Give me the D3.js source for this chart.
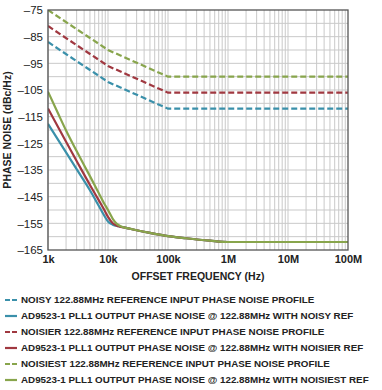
<!DOCTYPE html>
<html><head><meta charset="utf-8">
<script src="https://cdn.jsdelivr.net/npm/d3@7"></script>
<style>body{margin:0;background:#fff;}svg{display:block;font-family:"Liberation Sans",Arial,sans-serif;}</style>
</head><body>
<svg id="c" width="382" height="390"></svg>
<script>
// ---- data ----
const yTicks = [-75,-85,-95,-105,-115,-125,-135,-145,-155,-165];
const xTicks = [1e3,1e4,1e5,1e6,1e7,1e8];
const xTickLabels = ["1k","10k","100k","1M","10M","100M"];

const refFreq = [1e3,1e4,1e5,1e6,1e7,1e8];
const noisyRef    = [-87,-102,-112,-112,-112,-112];
const noisierRef  = [-81,-96,-106,-106,-106,-106];
const noisiestRef = [-75,-90,-100,-100,-100,-100];

const outFreqBlue  = [1e3,2e3,3e3,5e3,7e3,8.5e3,1e4,1.2e4,1.5e4,2e4,3e4,5e4,1e5,2e5,5e5,1e6,1e7,1e8];
const outBlue      = [-117.7,-128.4,-134.7,-142.6,-148.4,-151.8,-154.3,-155.5,-156.1,-156.7,-157.6,-158.6,-159.8,-160.6,-161.5,-162,-162,-162];
const outFreqRed   = [1e3,2e3,3e3,5e3,7e3,8.5e3,1e4,1.2e4,1.5e4,2e4,3e4,5e4,1e5,2e5,5e5,1e6,1e7,1e8];
const outRed       = [-111.9,-124.4,-131.6,-140.6,-146.3,-149.6,-152.6,-155,-156.1,-156.7,-157.6,-158.6,-159.8,-160.6,-161.5,-162,-162,-162];
const outFreqGreen = [1e3,1.5e3,2e3,3e3,5e3,7e3,8.5e3,1e4,1.2e4,1.4e4,1.7e4,2e4,3e4,5e4,1e5,2e5,5e5,1e6,1e7,1e8];
const outGreen     = [-105.6,-114.2,-120.2,-127.9,-137.3,-143.6,-147.3,-150,-153.3,-155.2,-156.3,-156.7,-157.6,-158.6,-159.8,-160.6,-161.5,-162,-162,-162];

const legendLabels = [
  "NOISY 122.88MHz REFERENCE INPUT PHASE NOISE PROFILE",
  "AD9523-1 PLL1 OUTPUT PHASE NOISE @ 122.88MHz WITH NOISY REF",
  "NOISIER 122.88MHz REFERENCE INPUT PHASE NOISE PROFILE",
  "AD9523-1 PLL1 OUTPUT PHASE NOISE @ 122.88MHz WITH NOISIER REF",
  "NOISIEST 122.88MHz REFERENCE INPUT PHASE NOISE PROFILE",
  "AD9523-1 PLL1 OUTPUT PHASE NOISE @ 122.88MHz WITH NOISIEST REF"
];

// ---- drawing ----
const C_BLUE = "#3a90aa", C_RED = "#a03840", C_GREEN = "#88a54c";
const svg = d3.select("#c");
const L = 48, R = 348, T = 10, B = 250;
const x = d3.scaleLog().domain([1e3,1e8]).range([L,R]);
const y = d3.scaleLinear().domain([-165,-75]).range([B,T]);

const grid = svg.append("g");
const minor = [];
for (let d = 1e3; d < 1e8; d *= 10) for (let k = 1; k <= 9; k++) minor.push(d*k);
grid.selectAll("line.v").data(minor).join("line")
  .attr("x1", d => x(d)).attr("x2", d => x(d)).attr("y1", T).attr("y2", B)
  .attr("stroke", "#c9c9c9").attr("stroke-width", 1);
grid.selectAll("line.h").data(d3.range(-160,-75,5)).join("line")
  .attr("x1", L).attr("x2", R).attr("y1", d => y(d)).attr("y2", d => y(d))
  .attr("stroke", "#c9c9c9").attr("stroke-width", 1);

const yAxis = svg.append("g").attr("transform", `translate(${L},0)`)
  .call(d3.axisLeft(y).tickValues(yTicks).tickSize(0).tickPadding(5).tickFormat(d => String(d).replace("-", "\u2013")));
yAxis.select(".domain").remove();
yAxis.selectAll("text").attr("font-size", 11.5).attr("fill", "#222").attr("font-family", "Liberation Sans, Arial, sans-serif");

const xAxis = svg.append("g").attr("transform", `translate(0,${B})`)
  .call(d3.axisBottom(x).tickValues(xTicks).tickSize(0).tickPadding(5).tickFormat((d,i) => xTickLabels[i]));
xAxis.select(".domain").remove();
xAxis.selectAll("text").attr("font-size", 11).attr("font-weight", "bold").attr("fill", "#222").attr("font-family", "Liberation Sans, Arial, sans-serif");

svg.append("text").attr("x", (L+R)/2).attr("y", 280).attr("text-anchor", "middle")
  .attr("font-size", 10.5).attr("font-weight", "bold").attr("fill", "#222").text("OFFSET FREQUENCY (Hz)");
svg.append("text").attr("transform", `translate(11,${(T+B)/2}) rotate(-90)`).attr("text-anchor", "middle")
  .attr("font-size", 10.5).attr("font-weight", "bold").attr("fill", "#222").text("PHASE NOISE (dBc/Hz)");

svg.append("clipPath").attr("id", "pc").append("rect").attr("x", L).attr("y", T).attr("width", R-L).attr("height", B-T);
const g = svg.append("g").attr("clip-path", "url(#pc)");
const lineGen = d3.line().x(d => x(d[0])).y(d => y(d[1]));
const lineCurve = d3.line().x(d => x(d[0])).y(d => y(d[1])).curve(d3.curveMonotoneX);
const series = [
  {f: refFreq, v: noisyRef, c: C_BLUE, dash: "6,3", gen: lineGen},
  {f: refFreq, v: noisierRef, c: C_RED, dash: "6,3", gen: lineGen},
  {f: refFreq, v: noisiestRef, c: C_GREEN, dash: "6,3", gen: lineGen},
  {f: outFreqBlue, v: outBlue, c: C_BLUE, dash: null, gen: lineCurve},
  {f: outFreqRed, v: outRed, c: C_RED, dash: null, gen: lineCurve},
  {f: outFreqGreen, v: outGreen, c: C_GREEN, dash: null, gen: lineCurve}
];
series.forEach(s => {
  g.append("path").datum(s.f.map((f,i) => [f, s.v[i]]))
    .attr("d", s.gen).attr("fill", "none").attr("stroke", s.c).attr("stroke-width", 2.2)
    .attr("stroke-dasharray", s.dash);
});

svg.append("rect").attr("x", L).attr("y", T).attr("width", R-L).attr("height", B-T)
  .attr("fill", "none").attr("stroke", "#555").attr("stroke-width", 1.3);

const legCols = [C_BLUE, C_BLUE, C_RED, C_RED, C_GREEN, C_GREEN];
const leg = svg.append("g");
legendLabels.forEach((t, i) => {
  const yy = 300 + i*16;
  const dashed = i % 2 === 0;
  leg.append("line").attr("x1", 5).attr("x2", 17).attr("y1", yy).attr("y2", yy)
    .attr("stroke", legCols[i]).attr("stroke-width", 2.2).attr("stroke-dasharray", dashed ? "5,2" : null);
  leg.append("text").attr("x", 21).attr("y", yy).attr("dy", "0.35em")
    .attr("font-size", 9.8).attr("font-weight", "bold").attr("fill", "#222").text(t);
});
</script>
</body></html>
